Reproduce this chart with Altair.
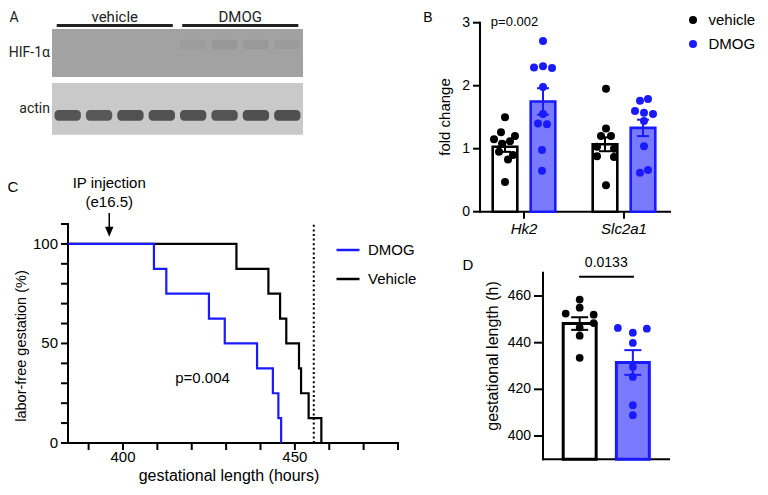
import altair as alt
import pandas as pd

# ---------------- values ----------------
# Panel A: western blot, 8 lanes
lanes = [1, 2, 3, 4, 5, 6, 7, 8]
lane_groups = ["vehicle", "vehicle", "vehicle", "vehicle", "DMOG", "DMOG", "DMOG", "DMOG"]
blot_rows = ["HIF-1α", "actin"]
hif_signal = [0.0, 0.0, 0.0, 0.0, 0.08, 0.12, 0.11, 0.09]
actin_signal = [0.92, 0.90, 0.95, 0.95, 0.95, 0.93, 0.97, 0.97]

# Panel B: fold change
genes = ["Hk2", "Slc2a1"]
groups_b = ["vehicle", "DMOG"]
hk2_vehicle = [1.50, 1.26, 1.20, 1.15, 1.12, 1.08, 0.95, 0.90, 0.83, 0.47]
hk2_vehicle_spread = [0, -4, 10, -11, 5, -3, -6, 8, 3, 0]
hk2_dmog = [2.71, 2.31, 2.29, 2.28, 1.98, 1.55, 1.40, 1.39, 0.98, 0.65]
hk2_dmog_spread = [0, 0, -9, 9, 0, 0, -5, 4, -1, -1]
slc_vehicle = [1.95, 1.32, 1.20, 1.20, 1.03, 1.00, 0.88, 0.87, 0.42]
slc_vehicle_spread = [1, 1, -4, 6, -8, 9, -8, 9, 1]
slc_dmog = [1.79, 1.76, 1.60, 1.57, 1.55, 1.44, 1.04, 0.66, 0.62]
slc_dmog_spread = [5, -3, -8, 1, 10, 1, 1, 5, -3]
b_mean_vehicle = [1.03, 1.07]
b_mean_dmog = [1.75, 1.33]
b_sem_vehicle = [0.08, 0.11]
b_sem_dmog = [0.21, 0.13]
b_ticks = [0, 1, 2, 3]
b_pvalue = "p=0.002"

# Panel C: labor-free gestation (Kaplan-Meier)
arms = ["DMOG", "Vehicle"]
dmog_times = [384, 409, 412.6, 425, 429.6, 439, 443.6, 445.2, 446]
vehicle_times = [384, 433, 442.3, 445.7, 447.5, 451.2, 451.8, 454, 457.7]
surv_steps = [100, 87.5, 75, 62.5, 50, 37.5, 25, 12.5, 0]
injection_time = 396
cutoff_time = 455.5
c_xticks = [390, 400, 410, 420, 430, 440, 450, 460, 470, 480]
c_xlabels = ["", "400", "", "", "", "", "450", "", "", ""]
c_yticks = [0, 10, 20, 30, 40, 50, 60, 70, 80, 90, 100, 110]
c_ylabels = ["0", "", "", "", "", "50", "", "", "", "", "100", ""]
c_pvalue = "p=0.004"

# Panel D: gestational length
d_groups = ["vehicle", "DMOG"]
d_vehicle = [458.5, 455.0, 452.5, 452.0, 448.4, 446.5, 443.0, 433.5]
d_vehicle_spread = [0, 0, -14, 14, 14, 0, 0, 0]
d_dmog = [446.3, 444.3, 446.0, 439.9, 429.6, 425.3, 413.2, 408.9]
d_dmog_spread = [-15, 0, 14, 0, 0, 0, 0, 0]
d_means = [448.2, 431.5]
d_sems = [2.7, 5.3]
d_ticks = [400, 420, 440, 460]
d_pvalue = "0.0133"

# ---------------- layout / style ----------------
W, H = 752, 479
M = 8
def cx(v): return v - M
def cy(v): return v - M

FONT = "Liberation Sans"
BLUE = "#1a1aff"
LIGHT = "#7a7aff"


class Frame:
    """A panel: data domains mapped onto pixel spans of the figure."""
    def __init__(self, xd, xr, yd, yr):
        self.xd, self.xr, self.yd, self.yr = xd, xr, yd, yr
        self.xs = alt.Scale(domain=xd, range=[cx(xr[0]), cx(xr[1])], nice=False, zero=False)
        self.ys = alt.Scale(domain=yd, range=[cy(yr[0]), cy(yr[1])], nice=False, zero=False)

    def ux(self, p): return self.xd[0] + (p - self.xr[0]) * (self.xd[1] - self.xd[0]) / (self.xr[1] - self.xr[0])
    def uy(self, p): return self.yd[0] + (p - self.yr[0]) * (self.yd[1] - self.yd[0]) / (self.yr[1] - self.yr[0])
    def pxx(self, v): return self.xr[0] + (v - self.xd[0]) * (self.xr[1] - self.xr[0]) / (self.xd[1] - self.xd[0])
    def pxy(self, v): return self.yr[0] + (v - self.yd[0]) * (self.yr[1] - self.yr[0]) / (self.yd[1] - self.yd[0])
    def X(self, f): return alt.X(f, type="quantitative", scale=self.xs, axis=None)
    def Y(self, f): return alt.Y(f, type="quantitative", scale=self.ys, axis=None)


def texts(f, rows, **mk):
    df = pd.DataFrame(rows, columns=["t", "x", "y"])
    props = dict(font=FONT, color="black")
    props.update(mk)
    return alt.Chart(df).mark_text(**props).encode(x=f.X("x"), y=f.Y("y"), text="t:N")


def left_axis(f, at, lo, hi, ticks, labels, tick=7, gap=3, fs=14):
    p0 = f.pxx(at)
    dom = alt.Chart(pd.DataFrame({"x": [at], "y": [lo], "y2": [hi]})).mark_rule(
        strokeWidth=2, color="black", strokeCap="square").encode(x=f.X("x"), y=f.Y("y"), y2="y2:Q")
    tk = pd.DataFrame({"y": ticks, "lab": labels})
    tk["x"] = at
    tk["x2"] = f.ux(p0 - tick)
    tk["xl"] = f.ux(p0 - tick - gap)
    tks = alt.Chart(tk).mark_rule(strokeWidth=2, color="black").encode(x=f.X("x"), x2="x2:Q", y=f.Y("y"))
    labs = alt.Chart(tk).mark_text(font=FONT, fontSize=fs, align="right", baseline="middle",
                                   color="black").encode(x=f.X("xl"), y=f.Y("y"), text="lab:N")
    return [dom, tks, labs]


def bottom_axis(f, at, lo, hi, ticks, labels, tick=7, gap=4, fs=14, style="normal"):
    p0 = f.pxy(at)
    dom = alt.Chart(pd.DataFrame({"y": [at], "x": [lo], "x2": [hi]})).mark_rule(
        strokeWidth=2, color="black", strokeCap="square").encode(x=f.X("x"), x2="x2:Q", y=f.Y("y"))
    layers = [dom]
    if ticks:
        tk = pd.DataFrame({"x": ticks, "lab": labels})
        tk["y"] = at
        tk["y2"] = f.uy(p0 + tick)
        tk["yl"] = f.uy(p0 + tick + gap)
        layers.append(alt.Chart(tk).mark_rule(strokeWidth=2, color="black").encode(
            x=f.X("x"), y=f.Y("y"), y2="y2:Q"))
        layers.append(alt.Chart(tk).mark_text(font=FONT, fontSize=fs, align="center", baseline="top",
                                              fontStyle=style, color="black").encode(
            x=f.X("x"), y=f.Y("yl"), text="lab:N"))
    return layers


# ================= Panel A =================
A = Frame([0, 8], [52, 303], [0, 2.5], [137, 2])
row_span = {"HIF-1α": (1.11, 2.0), "actin": (0.04, 1.0)}
row_fill = {"HIF-1α": "#a2a2a2", "actin": "#c9c9c9"}

boxes = pd.DataFrame({
    "row": blot_rows,
    "x": [min(lanes) - 1] * 2, "x2": [max(lanes)] * 2,
    "y": [row_span[r][0] for r in blot_rows], "y2": [row_span[r][1] for r in blot_rows],
    "fill": [row_fill[r] for r in blot_rows],
})
boxes["ym"] = (boxes.y + boxes.y2) / 2
boxes["lx"] = A.ux(50)

lane_df = pd.DataFrame({"lane": lanes, "group": lane_groups, "hif": hif_signal, "actin": actin_signal})
lane_df["x"] = lane_df.lane - 1 + 0.08
lane_df["x2"] = lane_df.lane - 0.08
grp = lane_df.groupby("group", sort=False).lane.agg(["min", "max"]).reset_index()
grp["x"] = grp["min"] - 1 + 0.15
grp["x2"] = grp["max"] - 0.15
grp["xm"] = (grp["min"] - 1 + grp["max"]) / 2
grp["yr"] = A.uy(25.5)
grp["yt"] = A.uy(17)

a_box = alt.Chart(boxes).mark_rect().encode(
    x=A.X("x"), x2="x2:Q", y=A.Y("y"), y2="y2:Q", fill=alt.Fill("fill:N", scale=None))
a_hif = alt.Chart(lane_df).transform_calculate(y="1.62", y2="1.80").mark_rect(
    color="#555555", cornerRadius=4).encode(
    x=A.X("x"), x2="x2:Q", y=A.Y("y"), y2="y2:Q", opacity=alt.Opacity("hif:Q", scale=None))
a_actin = alt.Chart(lane_df).transform_calculate(y="0.30", y2="0.50").mark_rect(
    color="#4b4b4b", cornerRadius=4).encode(
    x=A.X("x"), x2="x2:Q", y=A.Y("y"), y2="y2:Q", opacity=alt.Opacity("actin:Q", scale=None))
a_rules = alt.Chart(grp).mark_rule(strokeWidth=3, color="#222222").encode(
    x=A.X("x"), x2="x2:Q", y=A.Y("yr"))
a_glab = alt.Chart(grp).mark_text(font="Roboto", fontSize=15, color="#222222").encode(
    x=A.X("xm"), y=A.Y("yt"), text="group:N")
a_rlab = alt.Chart(boxes).mark_text(font="Roboto", fontSize=14, align="right", color="#222222").encode(
    x=A.X("lx"), y=A.Y("ym"), text="row:N")
a_letter = texts(A, [["A", A.ux(14), A.uy(18)]], font="Roboto", fontSize=14, color="#222222")
panelA = alt.layer(a_box, a_hif, a_actin, a_rules, a_glab, a_rlab, a_letter)

# ================= Panel B =================
B = Frame([-0.44, 1.46], [480, 670], [0, 3], [211.7, 22.7])
GOFF = {"vehicle": -0.19, "DMOG": 0.19}
HALF_B = 0.123

series_b = {("Hk2", "vehicle"): (hk2_vehicle, hk2_vehicle_spread),
            ("Hk2", "DMOG"): (hk2_dmog, hk2_dmog_spread),
            ("Slc2a1", "vehicle"): (slc_vehicle, slc_vehicle_spread),
            ("Slc2a1", "DMOG"): (slc_dmog, slc_dmog_spread)}
dots_b = []
for gi, gene in enumerate(genes):
    for g in groups_b:
        vals, spr = series_b[(gene, g)]
        for v, s in zip(vals, spr):
            dots_b.append({"gene": gene, "group": g, "value": v, "x": gi + GOFF[g] + s / 100})
dots_b = pd.DataFrame(dots_b)

bars_b = []
for gi, gene in enumerate(genes):
    for g, mean, sem in (("vehicle", b_mean_vehicle[gi], b_sem_vehicle[gi]),
                         ("DMOG", b_mean_dmog[gi], b_sem_dmog[gi])):
        c = gi + GOFF[g]
        bars_b.append({"gene": gene, "group": g, "mean": mean, "base": 0, "lo": mean - sem, "hi": mean + sem,
                       "c": c, "x0": c - HALF_B, "x1": c + HALF_B, "cl": c - 0.06, "cr": c + 0.06,
                       "fill": "white" if g == "vehicle" else LIGHT,
                       "stroke": "black" if g == "vehicle" else BLUE})
bars_b = pd.DataFrame(bars_b)

b_axes = (left_axis(B, B.xd[0], 0, 3, b_ticks, [str(t) for t in b_ticks], tick=7, gap=3, fs=14)
          + bottom_axis(B, 0, B.xd[0], B.xd[1], [0, 1], genes, tick=7, gap=3, fs=15, style="italic"))
b_bars = alt.Chart(bars_b).mark_bar(strokeWidth=2.6).encode(
    x=B.X("x0"), x2="x1:Q", y=B.Y("mean"), y2="base:Q",
    fill=alt.Fill("fill:N", scale=None), stroke=alt.Stroke("stroke:N", scale=None))
b_dots = alt.Chart(dots_b).mark_circle(size=64, opacity=1).encode(
    x=B.X("x"), y=B.Y("value"),
    color=alt.Color("group:N", scale=alt.Scale(domain=groups_b, range=["black", BLUE]),
                    legend=alt.Legend(orient="none", legendX=cx(685.5), legendY=cy(12.5), title=None,
                                      symbolType="circle", symbolSize=64, labelOffset=8,
                                      rowPadding=8, labelFontSize=15, labelFont=FONT,
                                      labelColor="black")))
b_err = alt.Chart(bars_b).mark_rule(strokeWidth=2).encode(
    x=B.X("c"), y=B.Y("lo"), y2="hi:Q", stroke=alt.Stroke("stroke:N", scale=None))
b_cap_hi = alt.Chart(bars_b).mark_rule(strokeWidth=2).encode(
    x=B.X("cl"), x2="cr:Q", y=B.Y("hi"), stroke=alt.Stroke("stroke:N", scale=None))
b_cap_lo = alt.Chart(bars_b).mark_rule(strokeWidth=2).encode(
    x=B.X("cl"), x2="cr:Q", y=B.Y("lo"), stroke=alt.Stroke("stroke:N", scale=None))
b_p = texts(B, [[b_pvalue, B.ux(514.5), B.uy(22)]], fontSize=13)
b_letter = texts(B, [["B", B.ux(428), B.uy(18)]], fontSize=14)
b_title = texts(B, [["fold change", B.ux(445), B.uy(117)]], fontSize=15, angle=270)
panelB = alt.layer(*b_axes, b_bars, b_dots, b_err, b_cap_hi, b_cap_lo, b_p, b_letter, b_title)

# ================= Panel C =================
C = Frame([384, 480], [68, 398], [0, 110], [443, 224])
km = pd.DataFrame({
    "arm": ["DMOG"] * len(dmog_times) + ["Vehicle"] * len(vehicle_times),
    "time": dmog_times + vehicle_times,
    "surv": surv_steps + surv_steps,
})
c_color = alt.Color("arm:N", scale=alt.Scale(domain=arms, range=[BLUE, "black"]),
                    legend=alt.Legend(orient="none", legendX=cx(335), legendY=cy(237), title=None,
                                      symbolType="stroke", symbolSize=529, symbolStrokeWidth=2.5,
                                      labelOffset=7, rowPadding=8, labelFontSize=15, labelFont=FONT,
                                      labelColor="black"))
c_axes = (left_axis(C, 384, 0, 110, c_yticks, c_ylabels, tick=7, gap=3, fs=15)
          + bottom_axis(C, 0, 384, 480, c_xticks, c_xlabels, tick=7, gap=0, fs=15))
c_veh = alt.Chart(km).transform_filter("datum.arm == 'Vehicle'").mark_line(
    interpolate="step-after", strokeWidth=2.2).encode(x=C.X("time"), y=C.Y("surv"), color=c_color)
c_dmog = alt.Chart(km).transform_filter("datum.arm == 'DMOG'").mark_line(
    interpolate="step-after", strokeWidth=2.2).encode(x=C.X("time"), y=C.Y("surv"), color=c_color)
c_cut = alt.Chart(pd.DataFrame({"t": [cutoff_time], "y0": [0], "y1": [110]})).mark_rule(
    strokeDash=[2, 2.6], strokeWidth=2, color="black").encode(x=C.X("t"), y=C.Y("y0"), y2="y1:Q")
c_shaft = alt.Chart(pd.DataFrame({"t": [injection_time], "y0": [C.uy(213)], "y1": [C.uy(229)]})).mark_rule(
    strokeWidth=1.5, color="black").encode(x=C.X("t"), y=C.Y("y0"), y2="y1:Q")
c_head = alt.Chart(pd.DataFrame({"t": [injection_time], "y": [C.uy(231.7)]})).mark_point(
    shape="M -1 -1.2 L 1 -1.2 L 0 1.2 Z", size=70, filled=True, color="black", opacity=1).encode(
    x=C.X("t"), y=C.Y("y"))
c_text = texts(C, [["IP injection", injection_time, C.uy(182.7)],
                   ["(e16.5)", injection_time, C.uy(201.7)],
                   [c_pvalue, C.ux(202.5), C.uy(378)],
                   ["C", C.ux(13), C.uy(187)]], fontSize=15)
c_xtitle = texts(C, [["gestational length (hours)", C.ux(229), C.uy(476)]], fontSize=16)
c_ytitle = texts(C, [["labor-free gestation (%)", C.ux(22), C.uy(346)]], fontSize=14.5, angle=270)
panelC = alt.layer(*c_axes, c_veh, c_dmog, c_cut, c_shaft, c_head, c_text, c_xtitle, c_ytitle)

# ================= Panel D =================
D = Frame([-0.69, 1.68], [543, 669], [390, 470], [459.3, 272.7])
PXD = (D.xr[1] - D.xr[0]) / (D.xd[1] - D.xd[0])
HALF_D = 0.31
dots_d = pd.DataFrame(
    [{"group": "vehicle", "value": v, "x": 0 + s / PXD} for v, s in zip(d_vehicle, d_vehicle_spread)] +
    [{"group": "DMOG", "value": v, "x": 1 + s / PXD} for v, s in zip(d_dmog, d_dmog_spread)])
bars_d = pd.DataFrame({
    "group": d_groups, "c": [0, 1], "mean": d_means, "base": [D.yd[0]] * 2,
    "lo": [m - s for m, s in zip(d_means, d_sems)], "hi": [m + s for m, s in zip(d_means, d_sems)],
    "fill": ["white", LIGHT], "stroke": ["black", BLUE]})
bars_d["x0"] = bars_d.c - HALF_D
bars_d["x1"] = bars_d.c + HALF_D
bars_d["cl"] = bars_d.c - 0.16
bars_d["cr"] = bars_d.c + 0.16

d_axes = (left_axis(D, D.xd[0], 390, 470, d_ticks, [str(t) for t in d_ticks], tick=9, gap=3, fs=14)
          + bottom_axis(D, 390, D.xd[0], D.xd[1], [], []))
d_bars = alt.Chart(bars_d).mark_bar(strokeWidth=3).encode(
    x=D.X("x0"), x2="x1:Q", y=D.Y("mean"), y2="base:Q",
    fill=alt.Fill("fill:N", scale=None), stroke=alt.Stroke("stroke:N", scale=None))
d_dots = alt.Chart(dots_d).mark_circle(size=60, opacity=1).encode(
    x=D.X("x"), y=D.Y("value"),
    color=alt.Color("group:N", scale=alt.Scale(domain=d_groups, range=["black", BLUE]), legend=None))
d_err = alt.Chart(bars_d).mark_rule(strokeWidth=2).encode(
    x=D.X("c"), y=D.Y("lo"), y2="hi:Q", stroke=alt.Stroke("stroke:N", scale=None))
d_cap_hi = alt.Chart(bars_d).mark_rule(strokeWidth=2).encode(
    x=D.X("cl"), x2="cr:Q", y=D.Y("hi"), stroke=alt.Stroke("stroke:N", scale=None))
d_cap_lo = alt.Chart(bars_d).mark_rule(strokeWidth=2).encode(
    x=D.X("cl"), x2="cr:Q", y=D.Y("lo"), stroke=alt.Stroke("stroke:N", scale=None))
d_sig = alt.Chart(pd.DataFrame({"x": [-0.01], "x2": [1.02], "y": [D.uy(276.7)]})).mark_rule(
    strokeWidth=2, color="black").encode(x=D.X("x"), x2="x2:Q", y=D.Y("y"))
d_p = texts(D, [[d_pvalue, 0.5, D.uy(263)]], fontSize=14)
d_letter = texts(D, [["D", D.ux(468), D.uy(265)]], fontSize=15)
d_title = texts(D, [["gestational length (h)", D.ux(493), D.uy(356)]], fontSize=16, angle=270)
panelD = alt.layer(*d_axes, d_bars, d_dots, d_err, d_cap_hi, d_cap_lo, d_sig, d_p, d_letter, d_title)

chart = alt.layer(panelA, panelB, panelC, panelD).resolve_scale(
    x="independent", y="independent", color="independent"
).properties(
    width=W, height=H, padding=0, autosize=alt.AutoSizeParams(type="none")
).configure_view(stroke=None)

chart.save("out.html", embed_options={"renderer": "svg", "actions": False})
